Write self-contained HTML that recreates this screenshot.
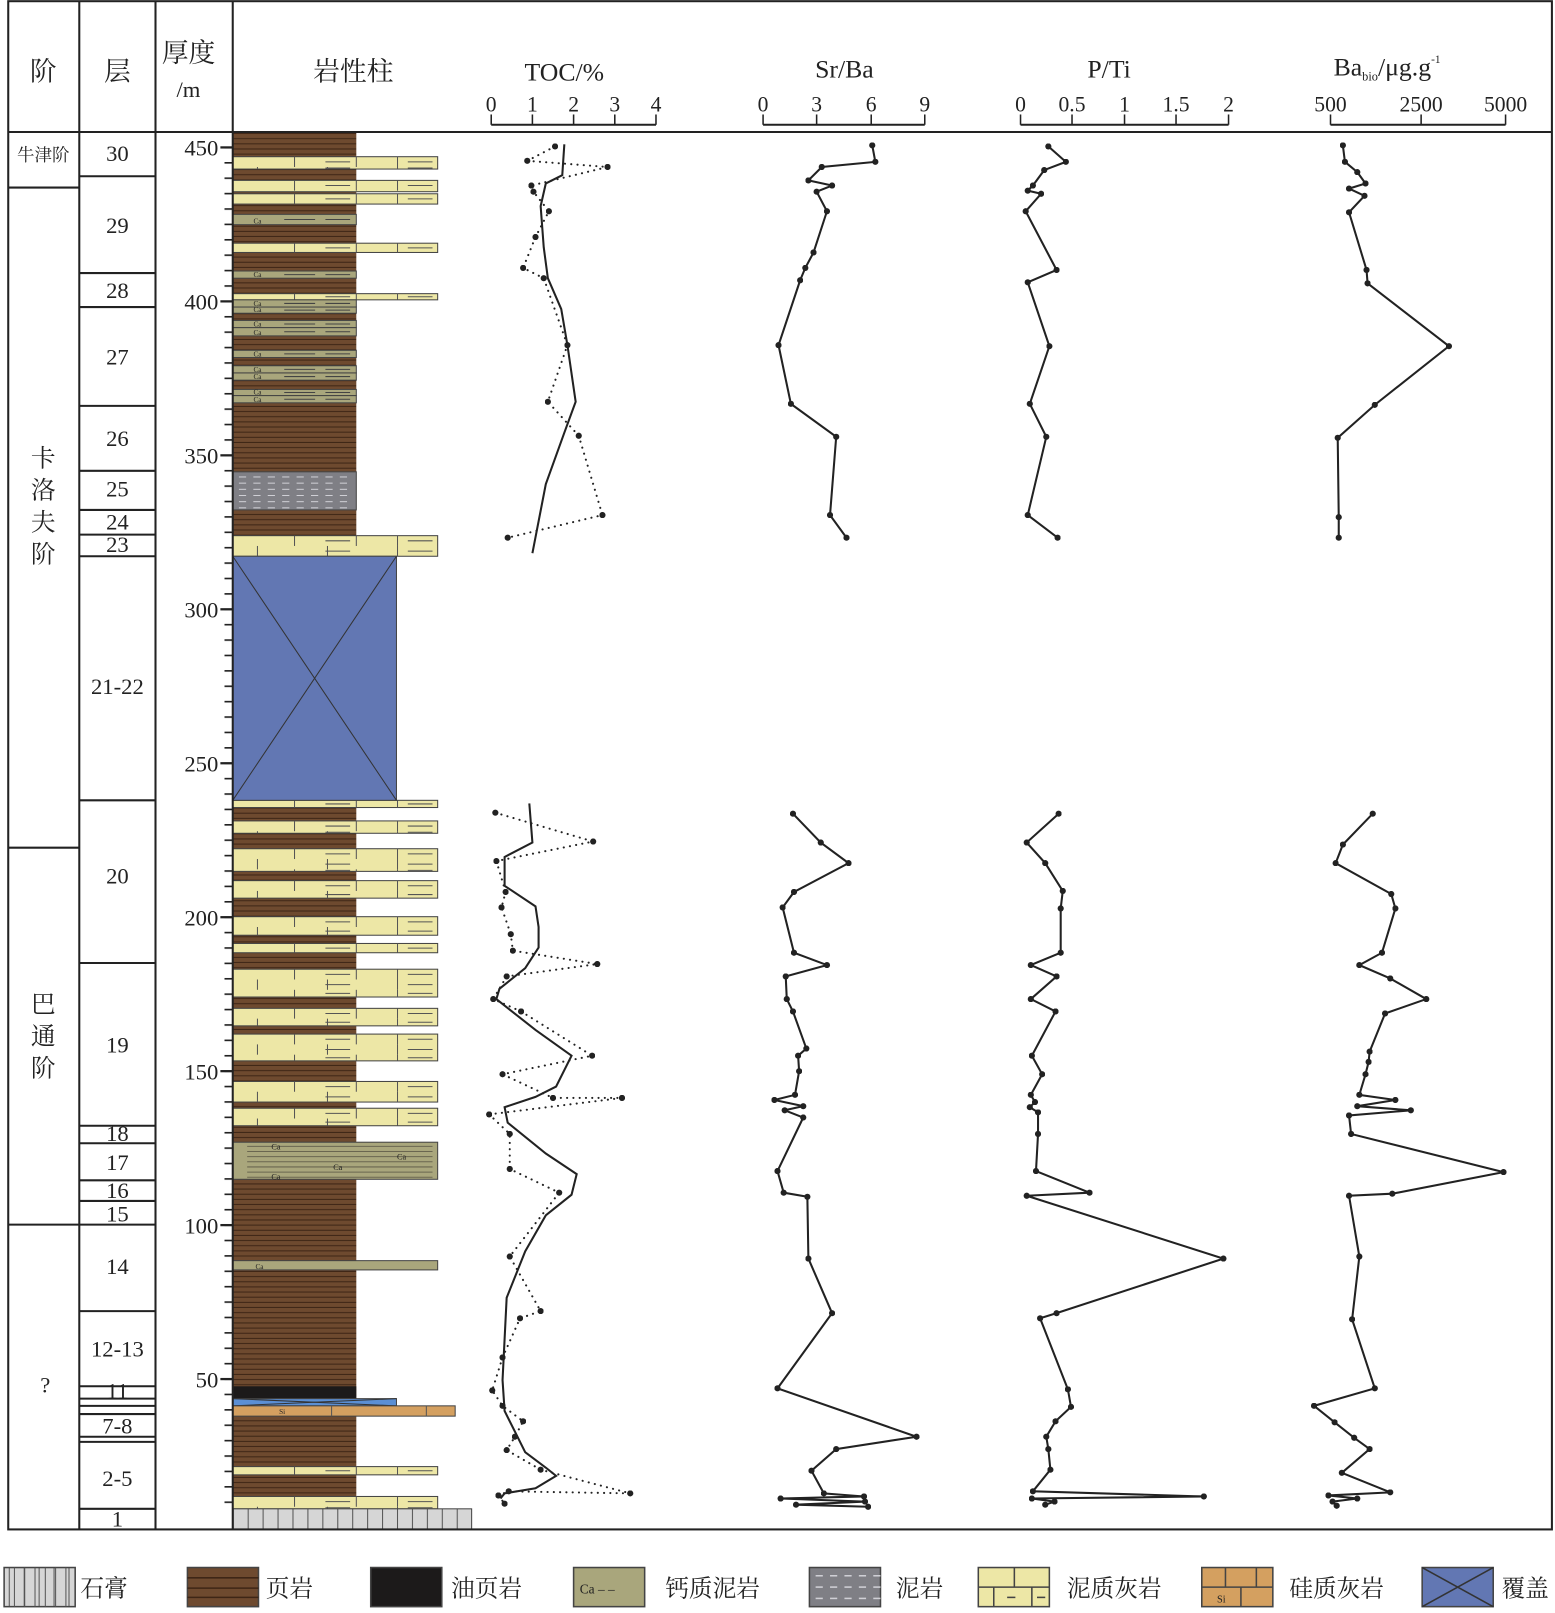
<!DOCTYPE html>
<html><head><meta charset="utf-8"><style>
html,body{margin:0;padding:0;background:#fff}
svg{display:block}
text{font-family:"Liberation Serif","Noto Serif CJK SC",serif;fill:#222}
</style></head><body>
<svg id="s" width="1555" height="1613" viewBox="0 0 1510 1566" xmlns="http://www.w3.org/2000/svg">
<defs>
<pattern id="sh" patternUnits="userSpaceOnUse" width="10" height="5"><rect width="10" height="5" fill="#6e4a2f"/><rect y="4" width="10" height="1" fill="#3e2616"/></pattern>
<pattern id="tk" patternUnits="userSpaceOnUse" x="218" y="142.2" width="8" height="14.95"><rect x="0" y="0" width="8" height="1.6" fill="#222"/></pattern>
<pattern id="gy" patternUnits="userSpaceOnUse" x="226" width="14.5" height="20"><rect width="14.5" height="20" fill="#d6d6d6"/><rect width="1" height="20" fill="#555"/></pattern>
<marker id="d" markerWidth="6" markerHeight="6" refX="3" refY="3" markerUnits="userSpaceOnUse"><circle cx="3" cy="3" r="3" fill="#222"/></marker>
</defs>
<g id="g"></g>
</svg>
<script>
var g=document.getElementById('g'),h='';
function R(x,y,w,hh,f,st){h+='<rect x="'+x+'" y="'+y+'" width="'+w+'" height="'+hh+'" fill="'+f+'"'+(st?' stroke="#444" stroke-width="1"':'')+'/>';}
function L(a,b,c,d,w,col){h+='<line x1="'+a+'" y1="'+b+'" x2="'+c+'" y2="'+d+'" stroke="'+(col||'#222')+'" stroke-width="'+(w||1)+'"/>';}
function T(x,y,s,sz,anc){h+='<text x="'+x+'" y="'+y+'" font-size="'+sz+'" text-anchor="'+(anc||'middle')+'">'+s+'</text>';}
R(226,128,120,1337,'url(#sh)');
var ls=[[152,164],[175,186],[188,198],[236,245],[285,291],[520,540],[777,784],[797,809],[824,846],[855,872],[890,908],[916,925],[941,968],[979,996],[1004,1030],[1050,1070],[1076,1093],[1424,1432],[1453,1465]];
ls.forEach(function(b){var y=b[0],hh=b[1]-b[0];R(226,y,199,hh,'#ede7a6',1);
 for(var yy=y;yy<b[1]-1;yy+=10){var e=Math.min(yy+10,b[1]);var k=((yy-y)/10)%2;L(k?250:286,yy,k?250:286,e,1,'#555');L(k?318:346,yy,k?318:346,e,1,'#555');L(386,yy,386,e,1,'#555');L(316,yy+Math.min(5,(e-yy)/2),340,yy+Math.min(5,(e-yy)/2),1,'#555');L(396,yy+Math.min(5,(e-yy)/2),420,yy+Math.min(5,(e-yy)/2),1,'#555');}});
var ca=[[208,218],[263,270],[291,298],[298,304],[311,318],[318,326],[340,347],[355,362],[362,369],[378,384],[384,391]];
ca.forEach(function(b){R(226,b[0],120,b[1]-b[0],'#a9a67c',1);L(276,(b[0]+b[1])/2,306,(b[0]+b[1])/2,1,'#444');L(316,(b[0]+b[1])/2,340,(b[0]+b[1])/2,1,'#444');T(250,b[1]-1,'Ca',7);});
R(226,1109,199,36,'#a9a67c',1);for(var y=1113;y<1145;y+=5){L(240,y,420,y,1,'#6a6650');}
T(268,1116,'Ca',8);T(328,1136,'Ca',8);T(390,1126,'Ca',8);T(268,1145,'Ca',8);
R(226,1224,199,9,'#a9a67c',1);T(252,1232,'Ca',7);
R(226,458,120,37,'#7f7f85',1);for(var y=463;y<495;y+=6){for(var x=232;x<340;x+=14)L(x,y,x+7,y,1,'#cfcfd5');}
R(226,540,159,237,'#6277b3',1);L(226,540,385,777,1,'#333');L(385,540,226,777,1,'#333');
R(226,1346,120,12,'#1c1a1a');R(226,1358,159,7,'#5b8fd4',1);L(226,1358,385,1365,1,'#333');L(385,1358,226,1365,1,'#333');
R(226,1365,216,10,'#d4a060',1);L(322,1365,322,1375,1,'#555');L(414,1365,414,1375,1,'#555');T(274,1373,'Si',7);
R(226,1465,232,20,'url(#gy)',1);
R(218,142,8,1325,'url(#tk)');
[450,400,350,300,250,200,150,100,50].forEach(function(d){var y=143+(450-d)*2.99;T(212,y+8,d,22,'end');L(214,y,226,y,2.2);});
h+='<rect x="8" y="1" width="1499" height="1484" fill="none" stroke="#222" stroke-width="2"/>';
L(77,1,77,1485,2);L(151,1,151,1485,2);L(226,1,226,1485,2);L(8,128,1507,128,2);
L(8,182,77,182,2);L(8,823,77,823,2);L(8,1189,77,1189,2);
T(42,78,'阶',26);T(114,78,'层',26);T(183,60,'厚度',26);T(183,94,'/m',22);T(343,78,'岩性柱',26);
T(42,156,'牛津阶',17);
['卡','洛','夫','阶'].forEach(function(c,i){T(42,453+i*31,c,24);});
['巴','通','阶'].forEach(function(c,i){T(42,983+i*31,c,24);});
T(44,1352,'?',22);
[171,265,298,394,457,495,519,540,777,935,1093,1110,1146,1166,1189,1273,1346,1358,1365,1373,1395,1400,1465].forEach(function(y){L(77,y,151,y,2);});
var lab=[['30',156],['29',226],['28',289],['27',354],['26',433],['25',482],['24',514],['23',536],['21-22',674],['20',858],['19',1022],['18',1108],['17',1136],['16',1163],['15',1186],['14',1237],['12-13',1317],['11',1358],['7-8',1392],['2-5',1443],['1',1482]];
lab.forEach(function(l){T(114,l[1],l[0],22);});
T(548,78,'TOC/%',25);T(820,75,'Sr/Ba',25);T(1077,75,'P/Ti',25);
h+='<text x="1295" y="73" font-size="25">Ba<tspan font-size="12" dy="5">bio</tspan><tspan dy="-5">/μg.g</tspan><tspan font-size="11" dy="-12">-1</tspan></text>';
function axis(x0,x1,ticks,labs){L(x0,121,x1,121,2);ticks.forEach(function(t,i){L(t,111,t,121,1.5);T(t,108,labs[i],21);});}
axis(477,637,[477,517,557,597,637],['0','1','2','3','4']);
axis(741,898,[741,793,846,898],['0','3','6','9']);
axis(991,1193,[991,1041,1092,1142,1193],['0','0.5','1','1.5','2']);
axis(1292,1462,[1292,1380,1462],['500','2500','5000']);
function P(pts,opt){var s=pts.map(function(p){return p.join(',')}).join(' ');h+='<polyline points="'+s+'" fill="none" stroke="#222" stroke-width="'+(opt.w||2)+'"'+(opt.dash?' stroke-dasharray="0.1 6" stroke-linecap="round" stroke-width="2.6"':'')+(opt.m?' marker-start="url(#d)" marker-mid="url(#d)" marker-end="url(#d)"':'')+'/>';}
P([[548,140],[546,170],[530,178],[525,200],[528,240],[532,270],[545,300],[551,335],[559,390],[548,420],[530,470],[517,537]],{});
P([[514,780],[517,818],[490,832],[490,860],[520,880],[523,900],[523,920],[510,940],[485,960],[482,970],[520,1000],[555,1025],[540,1055],[520,1065],[490,1075],[493,1090],[530,1120],[560,1140],[555,1160],[530,1180],[510,1215],[492,1260],[490,1300],[488,1340],[490,1370],[500,1390],[510,1410],[530,1425],[540,1433],[520,1445],[490,1450],[486,1455]],{});
P([[539,142],[512,156],[590,162],[516,180],[518,186],[533,205],[520,230],[508,260],[528,270],[551,335],[532,390],[562,423],[585,500],[493,522]],{dash:1,m:1});
P([[481,789],[576,817],[482,836],[491,866],[487,881],[496,907],[498,923],[580,936],[492,948],[479,970],[506,982],[575,1025],[488,1043],[537,1066],[604,1066],[475,1082],[495,1101],[495,1135],[543,1158],[495,1220],[525,1273],[505,1280],[488,1318],[478,1350],[488,1365],[508,1380],[500,1395],[492,1408],[525,1427],[612,1450],[494,1448],[484,1452],[490,1460]],{dash:1,m:1});
P([[847,141],[850,157],[798,162],[785,175],[808,180],[793,186],[803,205],[790,245],[782,260],[777,272],[756,335],[768,392],[812,424],[806,500],[822,522]],{m:1});
P([[770,790],[797,818],[824,838],[771,866],[760,881],[771,925],[803,937],[763,948],[764,970],[770,982],[783,1018],[775,1025],[776,1040],[772,1063],[752,1068],[780,1074],[762,1078],[780,1085],[755,1137],[761,1158],[784,1162],[785,1222],[808,1275],[755,1348],[890,1395],[812,1407],[788,1428],[800,1450],[839,1453],[758,1455],[840,1458],[773,1461],[843,1463]],{m:1});
P([[1018,142],[1035,157],[1014,165],[1003,180],[998,185],[1011,188],[996,205],[1026,262],[998,274],[1019,336],[1000,392],[1016,424],[998,500],[1027,522]],{m:1});
P([[1028,790],[997,818],[1015,838],[1032,865],[1030,882],[1030,925],[1001,937],[1026,948],[1001,970],[1025,982],[1002,1025],[1012,1043],[1001,1063],[1005,1070],[1000,1075],[1008,1080],[1008,1101],[1006,1137],[1058,1158],[997,1161],[1188,1222],[1026,1275],[1010,1280],[1037,1349],[1040,1366],[1025,1380],[1016,1395],[1018,1407],[1020,1427],[1003,1448],[1169,1453],[1002,1455],[1024,1458],[1015,1461]],{m:1});
P([[1304,141],[1306,157],[1318,167],[1326,178],[1310,183],[1325,190],[1310,206],[1327,262],[1328,275],[1407,336],[1335,393],[1299,425],[1300,502],[1300,522]],{m:1});
P([[1333,790],[1304,820],[1297,838],[1351,868],[1355,882],[1342,925],[1320,937],[1350,950],[1385,970],[1345,984],[1330,1021],[1329,1031],[1326,1043],[1320,1063],[1355,1068],[1318,1074],[1370,1078],[1310,1083],[1312,1101],[1460,1138],[1352,1159],[1310,1161],[1320,1220],[1313,1281],[1335,1348],[1276,1365],[1296,1381],[1315,1396],[1330,1407],[1303,1430],[1350,1449],[1290,1452],[1318,1455],[1294,1458],[1298,1462]],{m:1});
var ly=1522,lh=38;
function box(x,f){h+='<rect x="'+x+'" y="'+ly+'" width="69" height="'+lh+'" fill="'+f+'" stroke="#444" stroke-width="1.5"/>';}
box(4,'url(#gy)');for(var x=14;x<73;x+=10)L(x,ly,x,ly+lh,1,'#555');T(78,1550,'石膏',23,'start');
box(182,'#6e4a2f');[1532,1542,1551].forEach(function(y){L(182,y,251,y,1.5,'#3e2616');});T(258,1550,'页岩',23,'start');
box(360,'#1c1a1a');T(438,1550,'油页岩',23,'start');
box(557,'#a9a67c');T(563,1547,'Ca – –',13,'start');T(646,1550,'钙质泥岩',23,'start');
box(786,'#7f7f85');[1530,1541,1552].forEach(function(y){for(var x=792;x<852;x+=14)L(x,y,x+7,y,1.5,'#cfcfd5');});T(870,1550,'泥岩',23,'start');
box(950,'#ede7a6');L(950,1541,1019,1541,1.5,'#444');L(985,1522,985,1541,1.5,'#444');L(965,1541,965,1560,1.5,'#444');L(1002,1541,1002,1560,1.5,'#444');L(978,1551,986,1551,1.5,'#444');L(1007,1551,1015,1551,1.5,'#444');T(1036,1550,'泥质灰岩',23,'start');
box(1167,'#d4a060');L(1167,1541,1236,1541,1.5,'#444');L(1190,1522,1190,1541,1.5,'#444');L(1220,1522,1220,1541,1.5,'#444');L(1205,1541,1205,1560,1.5,'#444');T(1186,1556,'Si',10);T(1252,1550,'硅质灰岩',23,'start');
box(1381,'#6277b3');L(1381,ly,1450,ly+lh,1.5,'#333');L(1450,ly,1381,ly+lh,1.5,'#333');T(1458,1550,'覆盖',23,'start');
g.innerHTML=h;
</script>
</body></html>
